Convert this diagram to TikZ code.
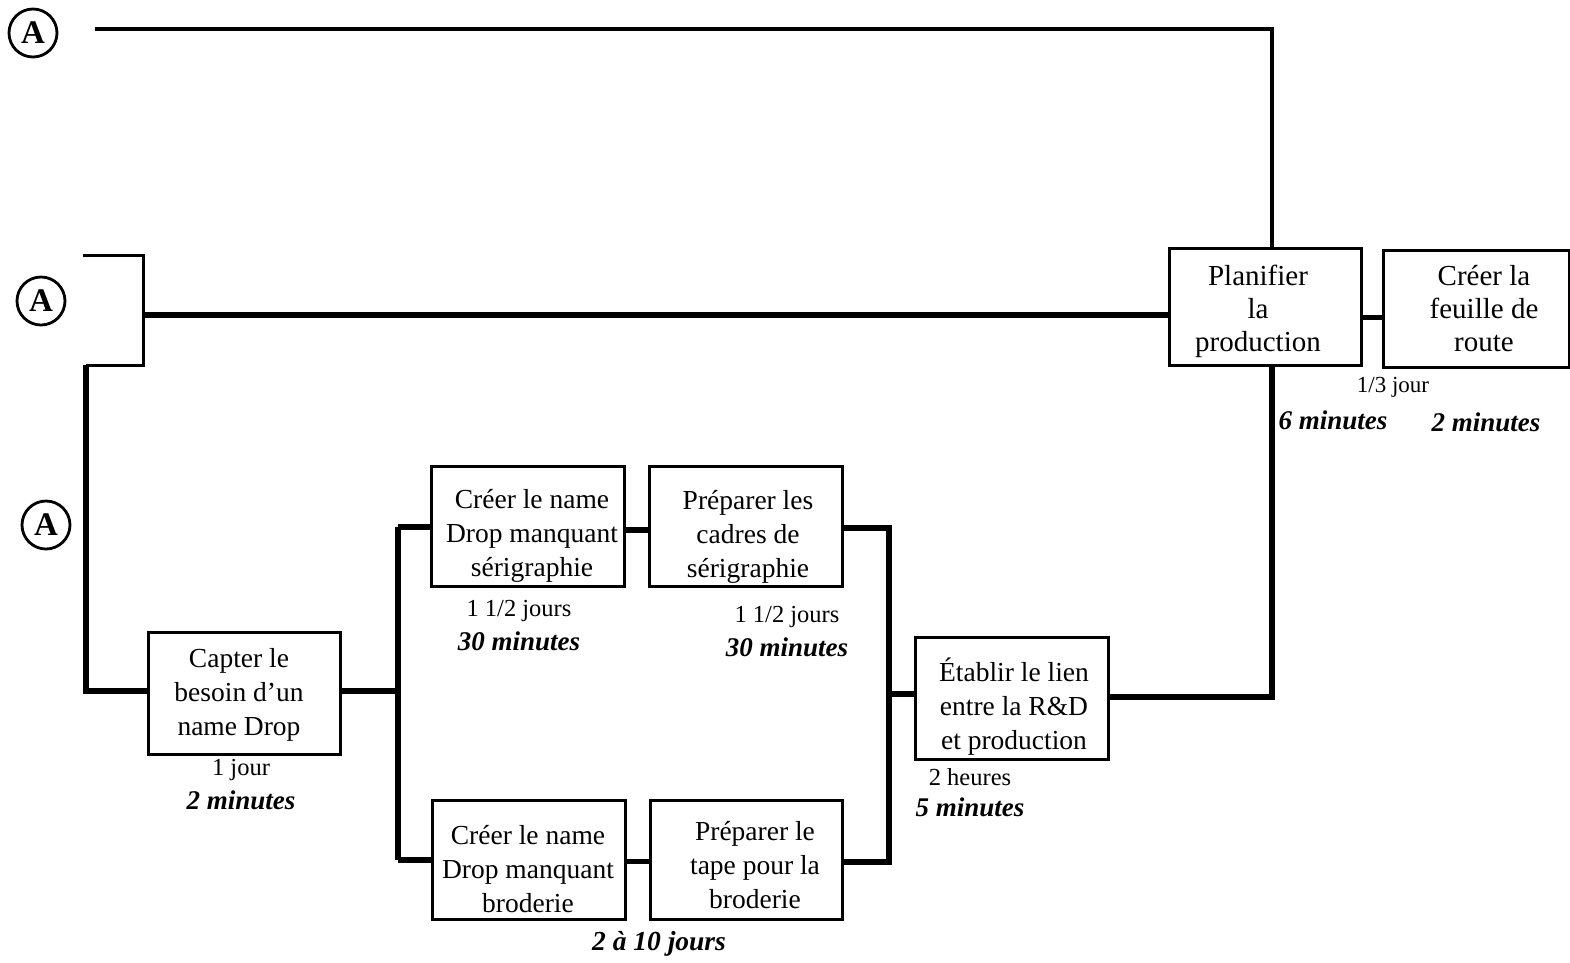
\documentclass[tikz,border=0pt]{standalone}
\usepackage{fontspec}
\setmainfont{Liberation Serif}
\begin{document}
\begin{tikzpicture}[x=1pt,y=-1pt,
  box/.style={draw,line width=3pt,minimum width=#1,inner sep=0pt},
  btext/.style={align=center,inner sep=0pt,font=\fontsize{27.5}{34}\selectfont},
  ptext/.style={align=center,inner sep=0pt,font=\fontsize{29}{33}\selectfont},
  conn/.style={line width=5.5pt},
  thin conn/.style={line width=3pt},
  circ/.style={draw,circle,line width=2.8pt,minimum size=48pt,inner sep=0pt,font=\fontsize{33}{33}\selectfont\bfseries},
  lab/.style={font=\fontsize{24.5}{26}\selectfont,inner sep=0pt},
  blab/.style={font=\fontsize{27}{28}\selectfont\bfseries\itshape,inner sep=0pt}]
\useasboundingbox (0,0) rectangle (1570,962);
% circles
\node[circ] (A1) at (33,33) {A};
\node[circ] (A2) at (41,301) {A};
\node[circ] (A3) at (46,525) {A};
% boxes
\node[box=192pt,minimum height=117pt] (plan) at (1265,306.5) {};
\node[box=186pt,minimum height=117pt] (feuille) at (1476,308.5) {};
\node[box=192pt,minimum height=122pt] (capter) at (244,693) {};
\node[box=193pt,minimum height=120pt] (cr1) at (527.5,526) {};
\node[box=193pt,minimum height=120pt] (prep1) at (745.5,526) {};
\node[box=193pt,minimum height=119pt] (cr2) at (528.5,859.5) {};
\node[box=192pt,minimum height=119pt] (prep2) at (746,859.5) {};
\node[box=193pt,minimum height=122pt] (etab) at (1011.5,698) {};
% box texts
\node[ptext] (planT) at (1258,311) {Planifier\\la\\production};
\node[ptext] (feuilleT) at (1484,309) {Créer la\\feuille de\\route};
\node[btext] (capterT) at (239,695) {Capter le\\besoin d'un\\name Drop};
\node[btext] (cr1T) at (532,536) {Créer le name\\Drop manquant\\sérigraphie};
\node[btext] (prep1T) at (748,537) {Préparer les\\cadres de\\sérigraphie};
\node[btext] (cr2T) at (528,869) {Créer le name\\Drop manquant\\broderie};
\node[btext] (prep2T) at (755,865) {Préparer le\\tape pour la\\broderie};
\node[btext] (etabT) at (1014,707) {Établir le lien\\entre la R\&D\\et production};
% labels
\node[lab,font=\fontsize{23}{24}\selectfont] (l13) at (1393,387) {1/3 jour};
\node[blab] (l6m) at (1333,420) {6 minutes};
\node[blab] (l2mf) at (1486,422) {2 minutes};
\node[lab] (l1j) at (241,770) {1 jour};
\node[blab] (l2m) at (241,800) {2 minutes};
\node[lab] (l15a) at (519,611) {1 1/2 jours};
\node[blab] (l30a) at (519,641) {30 minutes};
\node[lab] (l15b) at (787,617) {1 1/2 jours};
\node[blab] (l30b) at (787,647) {30 minutes};
\node[lab] (l2h) at (970,777) {2 heures};
\node[blab] (l5m) at (970,807) {5 minutes};
\node[blab,font=\fontsize{27.5}{28}\selectfont\bfseries\itshape] (l210) at (659,944) {2 à 10 jours};
% coordinates
\coordinate (t0) at (95,29);
\coordinate (b1) at (83,255);
\coordinate (b2) at (143,255);
\coordinate (b3) at (143,365);
\coordinate (b4) at (86,365);
\coordinate (bm) at (143,315);
\coordinate (s1) at (398,691);
\coordinate (s1t) at (398,527);
\coordinate (s1b) at (398,860);
\coordinate (s2) at (889,694);
\coordinate (s2t) at (889,528);
\coordinate (s2b) at (889,862);
\coordinate (rv) at (1272,697);
% connectors
\draw[line width=4.5pt] (t0) -| ([xshift=7pt]plan.north);
\draw[thin conn] (b1) -- (b2) -- (b3) -- (b4);
\draw[conn] (bm) -- (bm -| plan.west);
\draw[conn] (b4) |- (s1 -| capter.west);
\draw[conn] ([yshift=-11pt]plan.east) -- ([yshift=-11pt]plan.east -| feuille.west);
\draw[conn] (s1 -| capter.east) -- (s1);
\draw[conn] (s1t) -- (s1b);
\draw[conn] (s1t) -- (s1t -| cr1.west);
\draw[conn] (s1b) -- (s1b -| cr2.west);
\draw[conn] ([yshift=-4pt]cr1.east) -- ([yshift=-4pt]prep1.west);
\draw[conn] ([yshift=-2pt]cr2.east) -- ([yshift=-2pt]prep2.west);
\draw[conn] (s2t -| prep1.east) -- (s2t) -- (s2b) -- (s2b -| prep2.east);
\draw[conn] (s2) -- (s2 -| etab.west);
\draw[conn] (rv -| etab.east) -- (rv) -- (rv |- plan.south);
\end{tikzpicture}
\end{document}
